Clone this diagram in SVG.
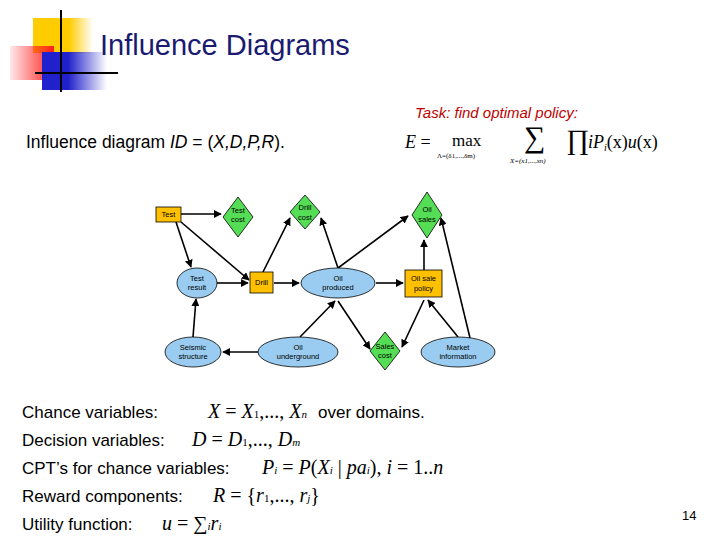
<svg xmlns="http://www.w3.org/2000/svg" width="720" height="540" viewBox="0 0 720 540">
<defs>
<marker id="a" viewBox="0 0 10 10" refX="9" refY="5" markerWidth="5" markerHeight="5" orient="auto"><path d="M0,0L10,5L0,10z" fill="#000"/></marker>
<linearGradient id="gy" x1="0" x2="1"><stop offset="0.6" stop-color="#ffcc00"/><stop offset="1" stop-color="#ffcc00" stop-opacity="0"/></linearGradient>
<linearGradient id="gr" x1="1" x2="0"><stop offset="0" stop-color="#ff2020"/><stop offset="1" stop-color="#ff2020" stop-opacity="0.1"/></linearGradient>
<linearGradient id="gb" x1="0" x2="1"><stop offset="0.4" stop-color="#2020cc"/><stop offset="1" stop-color="#2020cc" stop-opacity="0"/></linearGradient>
<style>
.t{font-family:"Liberation Sans",Arial,sans-serif}
.n{font-family:"Liberation Sans",Arial,sans-serif;font-size:7.5px;text-anchor:middle}
.m{font-family:"Liberation Serif","Times New Roman",serif;font-style:italic}
.box{fill:#ffc000;stroke:#000;stroke-width:0.8}
.ell{fill:#99ccf0;stroke:#000;stroke-width:0.8}
.dia{fill:#55dd55;stroke:#000;stroke-width:0.8}
#c line{stroke:#000;stroke-width:1.6;marker-end:url(#a)}
</style>
</defs>
<rect width="720" height="540" fill="#fff"/>
<g id="logo">
<rect x="33" y="18" width="60" height="35" fill="url(#gy)"/>
<rect x="10" y="46" width="44" height="34" fill="url(#gr)"/>
<rect x="42" y="52" width="65" height="38" fill="url(#gb)"/>
<line x1="61" y1="10" x2="61" y2="92" stroke="#000" stroke-width="2"/>
<line x1="35" y1="73" x2="118" y2="73" stroke="#000" stroke-width="2"/>
</g>
<text class="t" x="100" y="55" font-size="29" fill="#1a1a70">Influence Diagrams</text>
<text class="t" x="415" y="118" font-size="15" font-style="italic" fill="#c00000">Task: find optimal policy:</text>
<text class="t" x="26" y="148" font-size="17.5">Influence diagram <tspan font-style="italic">ID</tspan> = (<tspan font-style="italic">X,D,P,R</tspan>).</text>
<g class="m">
<text x="405" y="148" font-size="18">E <tspan font-style="normal">=</tspan></text>
<text x="452" y="146" font-size="17" font-style="normal">max</text>
<text x="437" y="158" font-size="7" font-style="normal">Λ=(δ1,...,δm)</text>
<text x="524" y="147" font-size="30" font-style="normal">∑</text>
<text x="510" y="163" font-size="7">X=(x1,...,xn)</text>
<text x="566" y="149" font-size="28" font-style="normal">∏</text>
<text x="588" y="148" font-size="18">iP<tspan font-size="10" dy="3">i</tspan><tspan dy="-3" font-style="normal">(x)</tspan>u<tspan font-style="normal">(x)</tspan></text>
</g>
<g id="c">
<line x1="181" y1="214" x2="221" y2="214"/>
<line x1="176" y1="222" x2="191" y2="267"/>
<line x1="181" y1="222" x2="249" y2="280"/>
<line x1="217" y1="283" x2="248" y2="283"/>
<line x1="193" y1="337" x2="196" y2="299"/>
<line x1="258" y1="352" x2="223" y2="352"/>
<line x1="263" y1="272" x2="290" y2="218"/>
<line x1="274" y1="283" x2="299" y2="283"/>
<line x1="338" y1="268" x2="321" y2="218"/>
<line x1="338" y1="268" x2="408" y2="216"/>
<line x1="376" y1="283" x2="403" y2="283"/>
<line x1="300" y1="337" x2="335" y2="301"/>
<line x1="338" y1="301" x2="370" y2="349"/>
<line x1="424" y1="270" x2="424" y2="240"/>
<line x1="470" y1="338" x2="441" y2="218"/>
<line x1="458" y1="337" x2="428" y2="300"/>
<line x1="424" y1="300" x2="402" y2="347"/>
</g>
<g id="test"><rect class="box" x="156" y="207" width="25" height="15"/><text class="n" x="168.5" y="217">Test</text></g>
<g id="testcost"><path class="dia" d="M238,197L253,217L238,237L223,217z"/><text class="n" x="238" y="213">Test</text><text class="n" x="238" y="222">cost</text></g>
<g id="drillcost"><path class="dia" d="M305,195L320,212L305,229L290,212z"/><text class="n" x="305" y="210">Drill</text><text class="n" x="305" y="220">cost</text></g>
<g id="oilsales"><path class="dia" d="M427,192L442,215L427,238L412,215z"/><text class="n" x="427" y="212">Oil</text><text class="n" x="427" y="222">sales</text></g>
<g id="testresult"><ellipse class="ell" cx="197" cy="283" rx="20" ry="15"/><text class="n" x="197" y="281">Test</text><text class="n" x="197" y="290">result</text></g>
<g id="drill"><rect class="box" x="250" y="272" width="23" height="21"/><text class="n" x="261.5" y="285">Drill</text></g>
<g id="oilproduced"><ellipse class="ell" cx="338" cy="283" rx="37" ry="15"/><text class="n" x="338" y="281">Oil</text><text class="n" x="338" y="290">produced</text></g>
<g id="oilsalepolicy"><rect class="box" x="405" y="270" width="37" height="27"/><text class="n" x="423.5" y="281">Oil sale</text><text class="n" x="423.5" y="291">policy</text></g>
<g id="seismic"><ellipse class="ell" cx="193" cy="352" rx="28" ry="15"/><text class="n" x="193" y="350">Seismic</text><text class="n" x="193" y="359">structure</text></g>
<g id="oilunderground"><ellipse class="ell" cx="298" cy="352" rx="40" ry="15"/><text class="n" x="298" y="350">Oil</text><text class="n" x="298" y="359">underground</text></g>
<g id="salescost"><path class="dia" d="M385,332L400,351L385,370L370,351z"/><text class="n" x="385" y="349">Sales</text><text class="n" x="385" y="358">cost</text></g>
<g id="market"><ellipse class="ell" cx="458" cy="352" rx="37" ry="15"/><text class="n" x="458" y="350">Market</text><text class="n" x="458" y="359">information</text></g>
<g font-size="17">
<text class="t" x="22" y="418">Chance variables:</text>
<text class="m" x="208" y="418" font-size="20">X <tspan font-style="normal">=</tspan> X<tspan font-size="11" font-style="normal">1</tspan><tspan font-style="normal">,..., </tspan>X<tspan font-size="11">n</tspan></text>
<text class="t" x="318" y="418">over domains.</text>
<text class="t" x="22" y="446">Decision variables:</text>
<text class="m" x="192" y="446" font-size="20">D <tspan font-style="normal">=</tspan> D<tspan font-size="11" font-style="normal">1</tspan><tspan font-style="normal">,..., </tspan>D<tspan font-size="11">m</tspan></text>
<text class="t" x="22" y="474">CPT’s for chance variables:</text>
<text class="m" x="262" y="474" font-size="20">P<tspan font-size="11">i</tspan> <tspan font-style="normal">=</tspan> P<tspan font-style="normal">(</tspan>X<tspan font-size="11">i</tspan> <tspan font-style="normal">|</tspan> pa<tspan font-size="11">i</tspan><tspan font-style="normal">), </tspan>i <tspan font-style="normal">= 1..</tspan>n</text>
<text class="t" x="22" y="502">Reward components:</text>
<text class="m" x="213" y="502" font-size="20">R <tspan font-style="normal">= {</tspan>r<tspan font-size="11" font-style="normal">1</tspan><tspan font-style="normal">,..., </tspan>r<tspan font-size="11">j</tspan><tspan font-style="normal">}</tspan></text>
<text class="t" x="22" y="530">Utility function:</text>
<text class="m" x="162" y="530" font-size="20">u <tspan font-style="normal">= ∑</tspan><tspan font-size="11">i</tspan>r<tspan font-size="11">i</tspan></text>
</g>
<text class="t" x="682" y="520" font-size="13">14</text>
</svg>
